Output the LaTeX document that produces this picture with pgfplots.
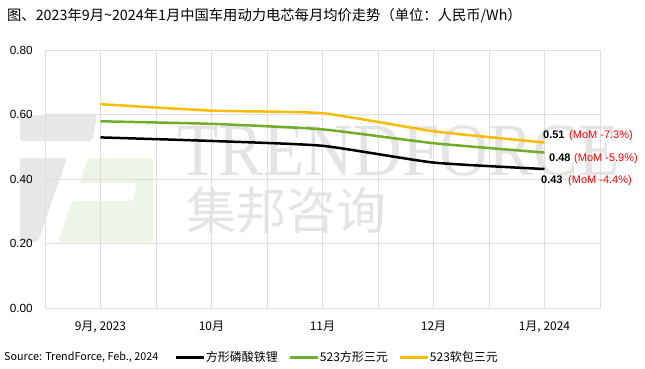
\documentclass[border=0pt]{standalone}
\usepackage{fontspec}
\usepackage{pgfplots}
\pgfplotsset{compat=1.18}
\setmainfont{Liberation Sans}
\newfontfamily\cjk{Noto Sans CJK SC}
\newfontfamily\wmserif{Liberation Serif}
\definecolor{cyellow}{RGB}{250,188,0}
\definecolor{cgreen}{RGB}{112,173,40}
\definecolor{cred}{RGB}{255,0,0}
\definecolor{gridc}{RGB}{222,222,222}
\definecolor{wmgray}{RGB}{232,230,232}
\definecolor{wmgreen}{RGB}{239,245,230}
\definecolor{wmtext}{RGB}{228,228,228}
\begin{document}
\begin{tikzpicture}[x=1pt,y=1pt]
\path[use as bounding box] (0,0) rectangle (645,368);
% watermark logo
\fill[wmgray, rounded corners=3pt] (20,253) -- (97,253) -- (92,227) -- (20,227) -- cycle;
\fill[wmgray, rounded corners=3pt] (20,210) -- (67,210) -- (38,126) -- (20,126) -- cycle;
\fill[wmgreen, rounded corners=3pt] (88,210) -- (153,210) -- (153,126) -- (58,126) -- (72,167) -- (133,167) -- (137,185) -- (79,185) -- cycle;
\node[anchor=base west, inner sep=0pt, text=wmtext, xscale=0.9] at (177,193) {\wmserif\fontsize{75}{75}\selectfont TRENDFORCE};
\node[anchor=center, inner sep=0pt, text=wmtext] at (286,157) {\cjk\fontsize{50}{50}\selectfont 集邦咨询};
% title
\node[anchor=base west, inner sep=0pt] at (7,347.5) {\cjk\fontsize{14.3}{16}\selectfont 图、2023年9月\textasciitilde2024年1月中国车用动力电芯每月均价走势（单位：人民币/Wh）};
% source
\node[anchor=west, inner sep=0pt] at (4,11) {\cjk\fontsize{10.8}{13}\selectfont Source: TrendForce, Feb., 2024};
\begin{axis}[
  at={(45pt,60pt)}, anchor=south west,
  scale only axis, width=555pt, height=258pt,
  xmin=-0.5, xmax=4.5, ymin=0, ymax=0.8,
  xtick={0,1,2,3,4},
  xticklabels={{9月, 2023},10月,11月,12月,{1月, 2024}},
  minor xtick={-0.5,0.5,1.5,2.5,3.5,4.5},
  ytick={0,0.2,0.4,0.6,0.8},
  grid=both,
  major grid style={gridc, line width=0.8pt},
  minor grid style={gridc, line width=0.8pt},
  axis line style={gridc, line width=0.8pt},
  major tick length=0pt, minor tick length=0pt,
  tick style={draw=none},
  /pgf/number format/assume math mode=true,
  yticklabel style={font=\fontsize{11.8}{14}\selectfont, inner sep=0pt, xshift=-12pt,
     /pgf/number format/fixed, /pgf/number format/fixed zerofill, /pgf/number format/precision=2},
  xticklabel style={font=\cjk\fontsize{12}{14}\selectfont, inner sep=0pt, yshift=-13pt},
  legend columns=3,
  legend style={draw=none, fill=none, inner sep=0pt, outer sep=0pt,
     at={(0.2342,-0.19)}, anchor=west,
     nodes={inner sep=0pt, font=\cjk\fontsize{12}{14}\selectfont},
     /tikz/every odd column/.style={column sep=0pt},
     /tikz/every even column/.style={column sep=11pt}},
  legend image code/.code={\draw[#1, line width=3pt] (0pt,0pt) -- (28pt,0pt);},
]
\addplot[black, line width=2.5pt, smooth, tension=0.3] coordinates {(0,0.529) (1,0.518) (2,0.503) (3,0.451) (4,0.431)};
\addlegendentry{方形磷酸铁锂}
\addplot[cgreen, line width=2.5pt, smooth, tension=0.3] coordinates {(0,0.579) (1,0.571) (2,0.554) (3,0.511) (4,0.482)};
\addlegendentry{523方形三元}
\addplot[cyellow, line width=2.5pt, smooth, tension=0.3] coordinates {(0,0.632) (1,0.612) (2,0.604) (3,0.548) (4,0.513)};
\addlegendentry{523软包三元}
\end{axis}
% end labels
\node[anchor=base west, inner sep=0pt] at (543,229.7) {\fontsize{11}{13}\selectfont\bfseries 0.51};
\node[anchor=base west, inner sep=0pt, text=cred] at (569,229.7) {\fontsize{11}{13}\selectfont (MoM -7.3\%)};
\node[anchor=base west, inner sep=0pt] at (549,206.7) {\fontsize{11}{13}\selectfont\bfseries 0.48};
\node[anchor=base west, inner sep=0pt, text=cred] at (574,206.7) {\fontsize{11}{13}\selectfont (MoM -5.9\%)};
\node[anchor=base west, inner sep=0pt] at (541,185) {\fontsize{11}{13}\selectfont\bfseries 0.43};
\node[anchor=base west, inner sep=0pt, text=cred] at (568,185) {\fontsize{11}{13}\selectfont (MoM -4.4\%)};
\end{tikzpicture}
\end{document}
